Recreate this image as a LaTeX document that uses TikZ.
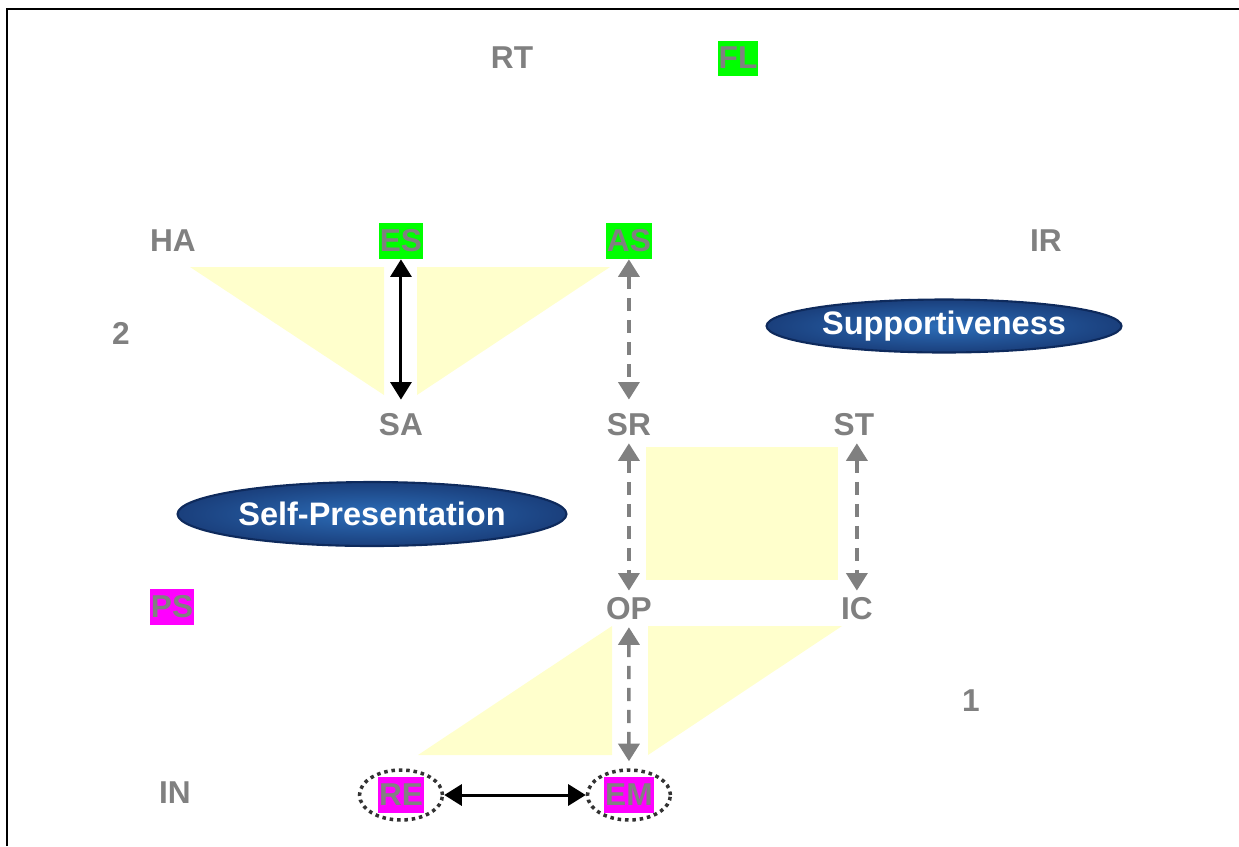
\documentclass[tikz,border=0pt]{standalone}
\usepackage{fontspec}
\setmainfont{Liberation Sans}
\usetikzlibrary{arrows.meta,shapes.geometric}
\definecolor{labelgray}{HTML}{808080}
\definecolor{paleyellow}{HTML}{FFFFCC}
\definecolor{navyedge}{HTML}{0E2A5C}
\definecolor{bluecore}{HTML}{2C6DB8}
\definecolor{blueouter}{HTML}{1A3F7C}
\definecolor{ringgray}{HTML}{333333}
\definecolor{brightgreen}{HTML}{00FF00}
\definecolor{brightpink}{HTML}{FF00FF}
\begin{document}
\begin{tikzpicture}[x=0.02cm, y=-0.02cm, node distance=3.68cm,
	lbl/.style={rectangle, text=labelgray, font=\fontsize{18}{20}\selectfont\bfseries, inner xsep=0.6pt, inner ysep=0pt, minimum height=0.72cm},
	greenlbl/.style={lbl, fill=brightgreen},
	pinklbl/.style={lbl, fill=brightpink},
	bigoval/.style={ellipse, draw=navyedge, line width=1.2pt, inner color=bluecore, outer color=blueouter, text=white, font=\fontsize{18.5}{20}\selectfont\bfseries, inner sep=0pt},
	ring/.style={ellipse, draw=ringgray, line width=2pt, dash pattern=on 2pt off 2.2pt, minimum width=1.66cm, minimum height=1cm},
	solidarr/.style={line width=1.7pt, {Triangle[width=12pt,length=10pt]}-{Triangle[width=12pt,length=10pt]}},
	dasharr/.style={draw=labelgray, line width=2pt, dash pattern=on 7.5pt off 5pt, {Triangle[width=12pt,length=10pt]}-{Triangle[width=12pt,length=10pt]}}]
	\useasboundingbox (0,0) rectangle (1239,846);
	% Frame
	\draw [line width=1.5pt] (7,846) -- (7,9) -- (1239,9);
	% Yellow areas
	\fill [paleyellow] (190,267) -- (384,267) -- (384,395) -- cycle;
	\fill [paleyellow] (417,267) -- (610,267) -- (417,395) -- cycle;
	\fill [paleyellow] (646,447) rectangle (838,580);
	\fill [paleyellow] (612,626) -- (612,755) -- (418,755) -- cycle;
	\fill [paleyellow] (648,626) -- (842,626) -- (648,755) -- cycle;
	% Place nodes
	\node [lbl] (rt) at (512,58) {RT};
	\node [greenlbl, minimum height=0.7cm] (fl) at (738,58) {FL};
	\node [lbl] (ha) at (173,241) {HA};
	\node [greenlbl, right of=ha, node distance=4.56cm] (es) {ES};
	\node [greenlbl, right of=es, node distance=4.56cm] (as) {AS};
	\node [lbl] (ir) at (1046,241) {IR};
	\node [lbl] (two) at (121,333) {2};
	\node [lbl, below of=es] (sa) {SA};
	\node [lbl, below of=as] (sr) {SR};
	\node [lbl, right of=sr, node distance=4.5cm] (st) {ST};
	\node [lbl, below of=sr] (op) {OP};
	\node [lbl, right of=op, node distance=4.56cm] (ic) {IC};
	\node [pinklbl] (ps) at (172,607) {PS};
	\node [lbl] (one) at (971,701) {1};
	\node [lbl] (in) at (175,793) {IN};
	\node [pinklbl] (re) at (401,795) {RE};
	\node [pinklbl, right of=re, node distance=4.56cm] (em) {EM};
	\node [ring] (rering) at (re) {};
	\node [ring] (emring) at (em) {};
	\node [bigoval, minimum width=7.1cm, minimum height=1.06cm] (support) at (944,326) {Supportiveness};
	\node [bigoval, minimum width=7.78cm, minimum height=1.28cm] (selfpres) at (372,514) {Self-Presentation};
	% Connectors
	\draw [solidarr, shorten >=4pt] (es) -- (sa);
	\draw [dasharr, shorten >=4pt] (as) -- (sr);
	\draw [dasharr] (sr) -- (op);
	\draw [dasharr] (st.south -| ic) -- (ic);
	\draw [dasharr, shorten >=4pt] (op) -- (emring);
	\draw [solidarr] (rering) -- (emring);
\end{tikzpicture}
\end{document}
